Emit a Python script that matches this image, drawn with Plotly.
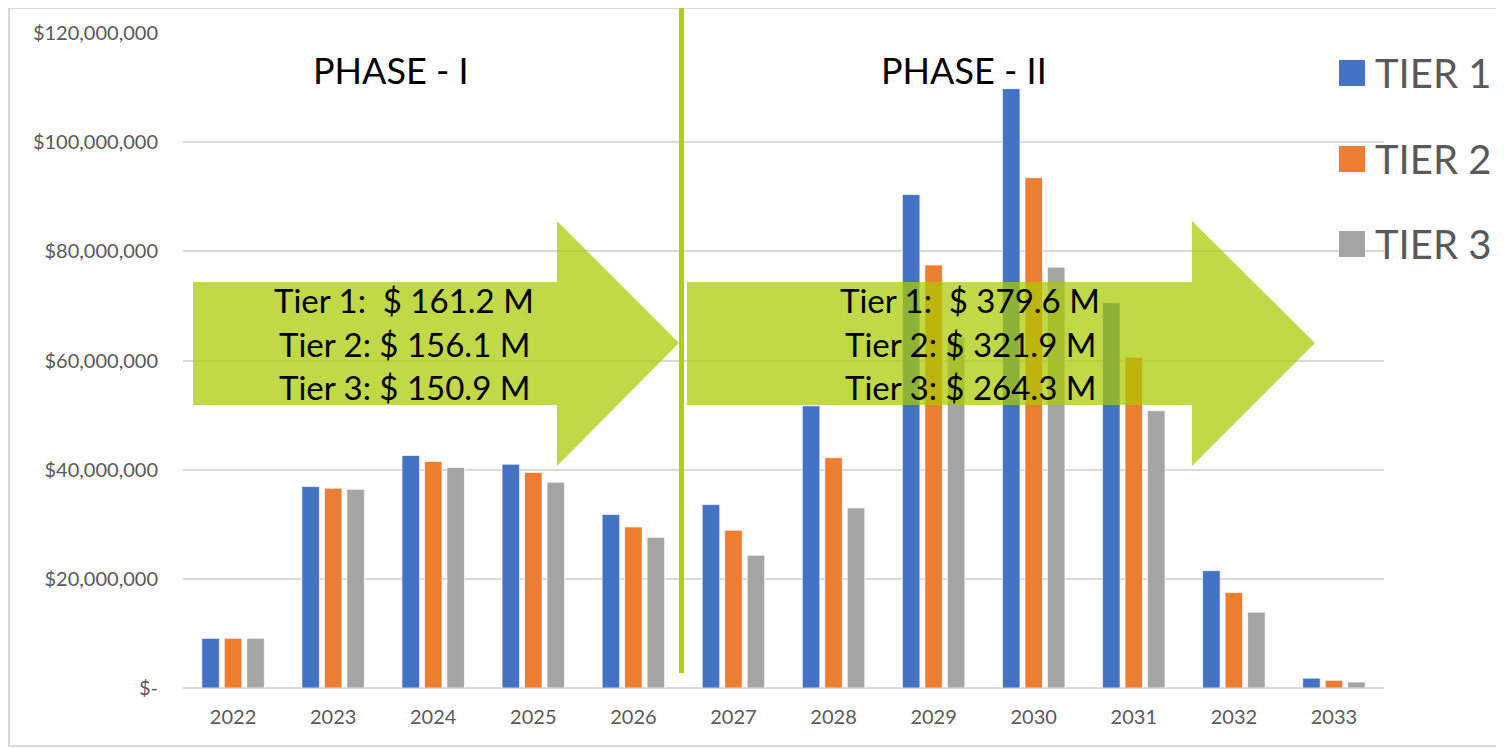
import plotly.graph_objects as go

years = ["2022", "2023", "2024", "2025", "2026", "2027", "2028",
         "2029", "2030", "2031", "2032", "2033"]
tier1 = [9.1, 36.9, 42.6, 41.0, 31.8, 33.6, 51.7, 90.4, 109.8, 70.6, 21.5, 1.8]
tier2 = [9.1, 36.6, 41.5, 39.5, 29.5, 28.9, 42.2, 77.5, 93.5, 60.6, 17.5, 1.4]
tier3 = [9.1, 36.4, 40.4, 37.7, 27.6, 24.3, 33.0, 64.2, 77.1, 50.8, 13.9, 1.1]
series_names = ["TIER 1", "TIER 2", "TIER 3"]
series_colors = ["#4472C4", "#ED7D31", "#A5A5A5"]

ytick_vals = [0, 20e6, 40e6, 60e6, 80e6, 100e6, 120e6]
ytick_text = ["$-", "$20,000,000", "$40,000,000", "$60,000,000",
              "$80,000,000", "$100,000,000", "$120,000,000"]

phase_titles = ["PHASE - I", "PHASE - II"]
phase1_text = ["Tier 1:  $ 161.2 M", "Tier 2: $ 156.1 M", "Tier 3: $ 150.9 M"]
phase2_text = ["Tier 1:  $ 379.6 M", "Tier 2: $ 321.9 M", "Tier 3: $ 264.3 M"]

OFF = 8  # page body margin
W, H = 1504 - OFF, 749 - OFF
# plot area in screen pixels
SL, SR, ST, SB = 183, 1384, 33, 688
L, R, T, B = SL - OFF, SR - OFF, ST - OFF, SB - OFF


def px(x):  # screen x -> paper
    return (x - SL) / (SR - SL)


def py(y):  # screen y -> paper
    return (SB - y) / (SB - ST)


FONT = "Lato, 'Open Sans', sans-serif"

fig = go.Figure()
for name, vals, col in zip(series_names, [tier1, tier2, tier3], series_colors):
    fig.add_trace(go.Bar(
        x=years, y=[v * 1e6 for v in vals], name=name,
        marker=dict(color=col, line=dict(color="rgba(255,255,255,0.7)", width=1)),
        showlegend=False,
    ))

shapes = []
shapes.append(dict(type="rect", xref="paper", yref="paper",
                   x0=px(9), x1=px(1520), y0=py(8), y1=py(746),
                   line=dict(color="#D9D9D9", width=2), fillcolor="rgba(0,0,0,0)",
                   layer="below"))


def arrow(x0, xh, xa, yb0, yb1, yh0, yh1, ya):
    p = (f"M {px(x0)},{py(yb0)} L {px(xh)},{py(yb0)} L {px(xh)},{py(yh0)} "
         f"L {px(xa)},{py(ya)} L {px(xh)},{py(yh1)} L {px(xh)},{py(yb1)} "
         f"L {px(x0)},{py(yb1)} Z")
    return dict(type="path", xref="paper", yref="paper", path=p,
                fillcolor="rgb(170,202,0)", opacity=0.72,
                line=dict(width=0), layer="above")


shapes.append(arrow(193, 557, 679, 282, 405, 221, 466, 343))
shapes.append(arrow(687, 1192, 1315, 282, 405, 221, 466, 343))
shapes.append(dict(type="line", xref="paper", yref="paper",
                   x0=px(681.5), x1=px(681.5), y0=py(8), y1=py(673),
                   line=dict(color="#B2CF00", width=5), layer="above"))

annotations = []


def ann(text, x, y, size, color="black", xanchor="center"):
    annotations.append(dict(text=text, x=px(x), y=py(y), xref="paper", yref="paper",
                            xanchor=xanchor, yanchor="middle", showarrow=False,
                            font=dict(family=FONT, size=size, color=color)))


ann(phase_titles[0], 391, 70, 36)
ann(phase_titles[1], 964, 70, 36)
for i, (t1, t2) in enumerate(zip(phase1_text, phase2_text)):
    yy = [300, 344, 387][i]
    ann(t1, 404, yy, 33)
    ann(t2, 970, yy, 33)

for i, (name, col) in enumerate(zip(series_names, series_colors)):
    yc = [73, 159, 244][i]
    shapes.append(dict(type="rect", xref="paper", yref="paper",
                       x0=px(1339), x1=px(1365), y0=py(yc - 13), y1=py(yc + 13),
                       fillcolor=col, line=dict(width=0)))
    ann(name, 1373, yc, 40, color="#595959", xanchor="left")

fig.update_layout(
    width=W, height=H,
    margin=dict(l=L, r=W - R, t=T, b=H - B),
    paper_bgcolor="white", plot_bgcolor="white",
    barmode="group", bargap=0.326, bargroupgap=0.22,
    shapes=shapes, annotations=annotations,
    font=dict(family=FONT, color="#595959"),
    xaxis=dict(showgrid=False, showline=False, ticks="",
               tickfont=dict(size=20, color="#595959"), ticklabelstandoff=15),
    yaxis=dict(range=[0, 120e6], tickvals=ytick_vals, ticktext=ytick_text,
               showgrid=True, gridcolor="#D9D9D9", gridwidth=1.5,
               zeroline=True, zerolinecolor="#D9D9D9", zerolinewidth=1.5,
               showline=False, ticks="", ticklabelstandoff=24,
               tickfont=dict(size=20, color="#595959")),
)

fig.write_html("out.html")
